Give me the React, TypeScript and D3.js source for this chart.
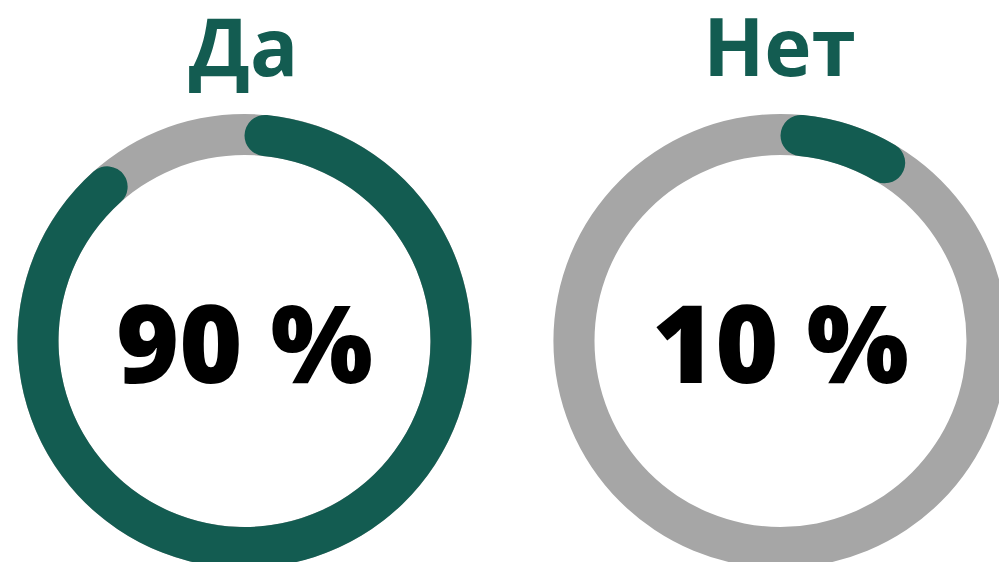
import React from "react";
import * as d3 from "d3";

const labels: string[] = ["Да", "Нет"];
const values: number[] = [90, 10];
const valueLabels: string[] = ["90 %", "10 %"];

const W = 999;
const H = 562;
const GREEN = "#135c51";
const GRAY = "#a6a6a6";

export default function App() {
  const x = d3.scaleBand<string>().domain(labels).range([-23.5, 1048.5]).padding(0);
  const angle = d3.scaleLinear().domain([0, 100]).range([0, 2 * Math.PI]);
  const inner = 186;
  const outer = 227;
  const bg = d3.arc<any>().innerRadius(inner).outerRadius(outer).startAngle(0).endAngle(2 * Math.PI);
  const fg = d3
    .arc<any>()
    .innerRadius(inner)
    .outerRadius(outer)
    .cornerRadius((outer - inner) / 2);
  const cy = 341;
  return (
    <svg
      width={W}
      height={H}
      style={{ position: "absolute", left: 0, top: 0, background: "#fff" }}
    >
      {labels.map((lab, i) => {
        const cx = (x(lab) as number) + x.bandwidth() / 2;
        return (
          <g key={lab}>
            <text
              x={cx - 1}
              y={76}
              textAnchor="middle"
              fontFamily="'Open Sans', sans-serif"
              fontWeight={700}
              fontSize={80}
              fill={GREEN}
            >
              {lab}
            </text>
            <g transform={`translate(${cx},${cy})`}>
              <path d={bg({}) as string} fill={GRAY} />
              <path
                d={fg({ startAngle: 0, endAngle: angle(values[i]) } as any) as string}
                fill={GREEN}
              />
              <text
                x={0}
                y={383 - cy}
                textAnchor="middle"
                fontFamily="'Open Sans', sans-serif"
                fontWeight={800}
                fontSize={108}
                fill="#000"
              >
                {valueLabels[i]}
              </text>
            </g>
          </g>
        );
      })}
    </svg>
  );
}
